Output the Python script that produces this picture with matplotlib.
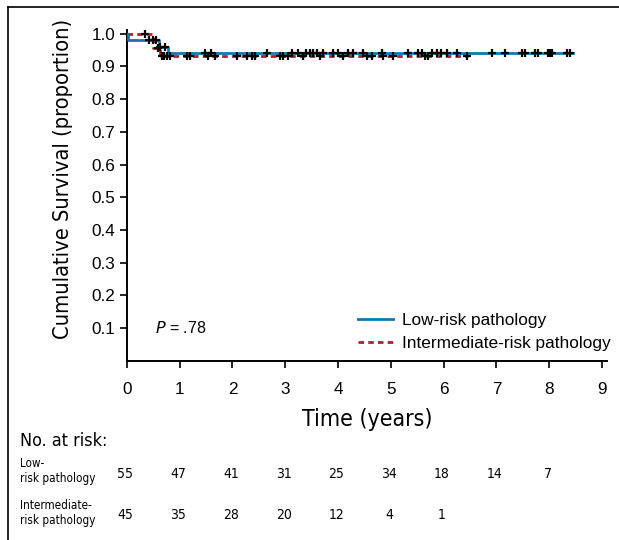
import matplotlib
matplotlib.use('Agg')
import numpy as np
import matplotlib.pyplot as plt
import matplotlib.transforms as mtransforms
from matplotlib import font_manager

#-- data

# step curves (time in years, survival)
low_t = [0.0, 0.02, 0.60, 0.78, 8.45]
low_s = [1.0, 0.98, 0.96, 0.94, 0.94]
int_t = [0.0, 0.50, 0.63, 6.47]
int_s = [1.0, 0.955, 0.93, 0.93]

# censor marks
low_cens_t = [0.42, 0.49, 0.55, 0.63, 0.72, 1.48, 1.60, 2.65, 3.12, 3.24, 3.40, 3.47,
              3.52, 3.60, 3.71, 3.90, 4.00, 4.19, 4.28, 4.47, 4.83, 5.32, 5.51, 5.59,
              5.78, 5.87, 5.96, 6.06, 6.25, 6.91, 7.16, 7.48, 7.54, 7.73, 7.78, 7.97,
              8.01, 8.05, 8.33, 8.39]
int_cens_t = [0.34, 0.59, 0.66, 0.70, 0.76, 0.81, 1.13, 1.19, 1.53, 1.67, 2.08, 2.27,
              2.37, 2.42, 2.90, 2.95, 3.05, 3.33, 3.66, 4.09, 4.55, 4.64, 4.85, 5.04,
              5.64, 5.70, 6.44]

xticks = list(range(0, 10))
yticks = [0.1, 0.2, 0.3, 0.4, 0.5, 0.6, 0.7, 0.8, 0.9, 1.0]

risk_low = [55, 47, 41, 31, 25, 34, 18, 14, 7]
risk_int = [45, 35, 28, 20, 12, 4, 1]

blue = '#0d78b3'
red = '#b71c31'

#-- fonts: a condensed face for the axis titles and risk table, if there is one
plt.rcParams['font.family'] = ['Liberation Sans', 'DejaVu Sans']
cond_props = dict(family='Liberation Sans')
cond_scale = 0.82
for f in font_manager.fontManager.ttflist:
    if f.name == 'DejaVu Sans' and f.stretch == 'condensed' and f.weight in ('normal', 400) \
            and f.style == 'normal':
        cond_props = dict(family='DejaVu Sans', stretch='condensed')
        cond_scale = 0.92
        break


def surv_at(t, ts, ss):
    i = np.searchsorted(ts, t, side='right') - 1
    return ss[max(i, 0)]


fig = plt.figure(figsize=(6.19, 5.40), dpi=100)
ax = fig.add_axes([0.205, 0.3315, 0.776, 0.6125])

ax.step(low_t, low_s, where='post', color=blue, lw=2.0, zorder=3, label='Low-risk pathology')
ax.step(int_t, int_s, where='post', color=red, lw=2.0, ls=(0, (2.0, 1.5)), zorder=2,
        label='Intermediate-risk pathology')

ax.plot(low_cens_t, [surv_at(t, low_t, low_s) for t in low_cens_t], ls='none', marker='+',
        ms=6, mew=1.6, color='black', zorder=4)
ax.plot(int_cens_t, [surv_at(t, int_t, int_s) for t in int_cens_t], ls='none', marker='+',
        ms=6, mew=1.6, color='black', zorder=4)

ax.set_xlim(0, 9.1)
ax.set_ylim(0, 1.01)
ax.set_xticks(xticks)
ax.set_yticks(yticks)
ax.set_yticklabels(['%.1f' % v for v in yticks])
ax.tick_params(labelsize=12.3, length=5, width=1.2, direction='out')
ax.tick_params(axis='x', pad=10)
for s in ['top', 'right']:
    ax.spines[s].set_visible(False)
for s in ['left', 'bottom']:
    ax.spines[s].set_linewidth(1.4)

ax.set_ylabel('Cumulative Survival (proportion)', size=17 * cond_scale, **cond_props)
ax.yaxis.set_label_coords(-0.112, 0.55)
ax.set_xlabel('Time (years)', size=18 * cond_scale, labelpad=8, **cond_props)

ax.text(0.53, 0.1, r'$\it{P}$ = .78', fontsize=11.5, va='center')

leg = ax.legend(loc='lower right', bbox_to_anchor=(1.04, -0.016), frameon=False, fontsize=12.4,
                handlelength=2.0, handletextpad=0.55, labelspacing=0.45)

#-- risk table
ftr = mtransforms.blended_transform_factory(ax.transData, fig.transFigure)
fig.text(20 / 619, 1 - 441 / 540, 'No. at risk:', fontsize=14 * cond_scale, va='center', **cond_props)
fig.text(20 / 619, 1 - 471 / 540, 'Low-\nrisk pathology', fontsize=8.4,
         va='center', linespacing=1.15, **cond_props)
fig.text(20 / 619, 1 - 513 / 540, 'Intermediate-\nrisk pathology', fontsize=8.4,
         va='center', linespacing=1.15, **cond_props)
for i, n in enumerate(risk_low):
    ax.text(xticks[i] - 0.03, 1 - 474 / 540, str(n), transform=ftr, ha='center', va='center',
            fontsize=10, **cond_props)
for i, n in enumerate(risk_int):
    ax.text(xticks[i] - 0.03, 1 - 515 / 540, str(n), transform=ftr, ha='center', va='center',
            fontsize=10, **cond_props)

# partial frame (left and top lines)
fig.add_artist(plt.Line2D([8 / 619, 8 / 619], [0, 1 - 7 / 540], color='black', lw=1.2))
fig.add_artist(plt.Line2D([8 / 619, 1], [1 - 7 / 540, 1 - 7 / 540], color='black', lw=1.2))

fig.savefig('out.png', dpi=100)
